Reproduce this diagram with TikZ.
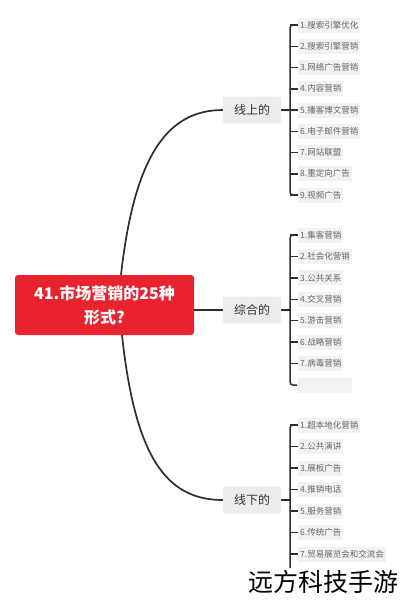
\documentclass[tikz,border=0pt]{standalone}
\usepackage{fontspec}
\setmainfont{Noto Sans CJK SC}
\definecolor{mainred}{HTML}{E8232F}
\definecolor{branchgray}{HTML}{ECECEC}
\definecolor{itemgray}{HTML}{F2F2F2}
\definecolor{itemtext}{HTML}{666666}
\definecolor{linecol}{HTML}{2E2E2E}
\begin{document}
\begin{tikzpicture}[x=1pt,y=-1pt,
  mainbox/.style={fill=mainred, rounded corners=3pt, text=white, font=\bfseries\fontsize{16}{24}\selectfont, minimum width=179pt, minimum height=60pt, align=center, inner sep=0pt},
  branch/.style={fill=branchgray, rounded corners=2pt, font=\fontsize{12}{14}\selectfont, text=black!80, minimum width=58pt, minimum height=27pt, inner sep=0pt},
  item/.style={fill=itemgray, font=\fontsize{8.5}{10}\selectfont, text=itemtext, anchor=west, inner xsep=2pt, inner ysep=0pt, minimum height=15pt},
  conn/.style={draw=linecol, line width=1.7pt},
  brk/.style={draw=linecol, line width=1.5pt, rounded corners=3pt}]
\useasboundingbox (0,0) rectangle (402,600);
\fill[white] (0,0) rectangle (402,600);

\node[mainbox] (root) at (104.5,305) {41.市场营销的25种\\形式?};
\node[branch] (b1) at (252,110) {线上的};
\node[branch] (b2) at (252,310) {综合的};
\node[branch] (b3) at (252,500) {线下的};

\draw[conn] ([xshift=16.5pt]root.north) .. controls (134,160) and (165,110) .. (b1.west);
\draw[conn] (root.east |- b2.west) -- (b2.west);
\draw[conn] ([xshift=17.5pt]root.south) .. controls (135,455) and (165,500) .. (b3.west);

% group 1
\coordinate (k1) at (290,110);
\draw[conn] (b1.east) -- (k1);
\draw[brk] (297,25) -- (290,25) -- (290,195) -- (297,195);
\foreach \t [count=\i from 0] in {1.搜索引擎优化,2.搜索引擎营销,3.网络广告营销,4.内容营销,5.播客博文营销,6.电子邮件营销,7.网站联盟,8.重定向广告,9.视频广告}{
  \coordinate (t1-\i) at (290,{25+21.25*\i});
  \node[item] (g1-\i) at (298,{25+21.25*\i}) {\t};
  \draw[brk] (t1-\i) -- (g1-\i.west);
}

% group 2
\coordinate (k2) at (290,310);
\draw[conn] (b2.east) -- (k2);
\draw[brk] (297,235) -- (290,235) -- (290,385) -- (297,385);
\foreach \t [count=\i from 0] in {1.集客营销,2.社会化营销,3.公共关系,4.交叉营销,5.游击营销,6.战略营销,7.病毒营销}{
  \coordinate (t2-\i) at (290,{235+21.43*\i});
  \node[item] (g2-\i) at (298,{235+21.43*\i}) {\t};
  \draw[brk] (t2-\i) -- (g2-\i.west);
}
\node[item, minimum width=54pt] (g2-7) at (298,385) {};

% group 3
\coordinate (k3) at (290,500);
\draw[conn] (b3.east) -- (k3);
\draw[brk] (297,425) -- (290,425) -- (290,568);
\foreach \t [count=\i from 0] in {1.超本地化营销,2.公共演讲,3.展板广告,4.推销电话,5.服务营销,6.传统广告,7.贸易展览会和交流会}{
  \coordinate (t3-\i) at (290,{425+21.5*\i});
  \node[item] (g3-\i) at (298,{425+21.5*\i}) {\t};
  \draw[brk] (t3-\i) -- (g3-\i.west);
}

\node[font=\fontsize{25}{28}\selectfont, text=black, inner sep=0pt] (wm) at (323,582) {远方科技手游};
\end{tikzpicture}
\end{document}
